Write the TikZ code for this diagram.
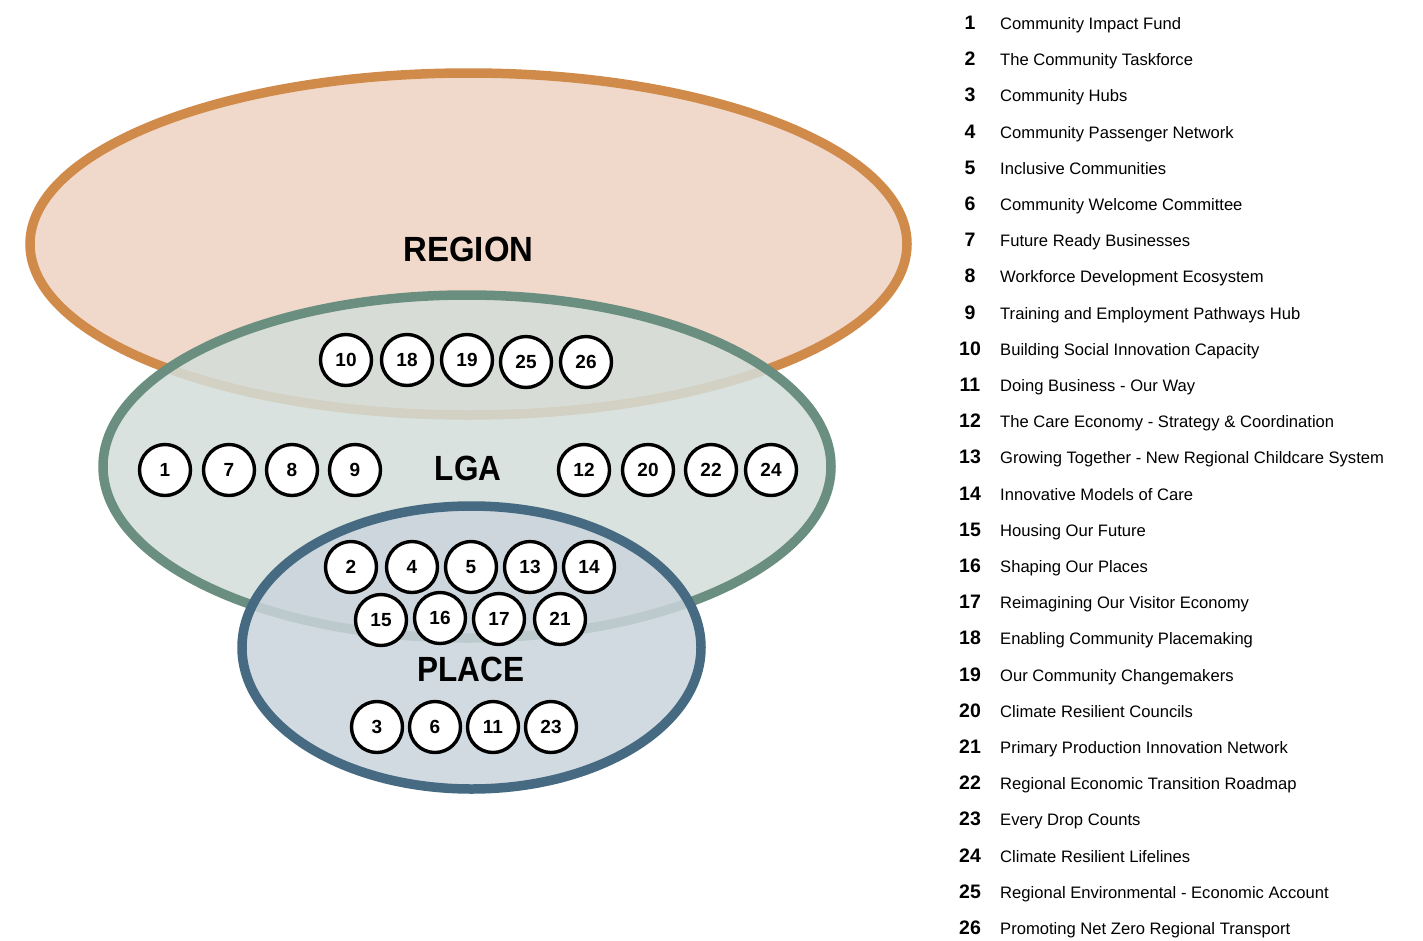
\documentclass[tikz,border=0pt]{standalone}
\usepackage{fontspec}
\setmainfont{Liberation Sans}
\definecolor{regionfill}{HTML}{F0D9CA}
\definecolor{regionline}{HTML}{D08A4A}
\definecolor{lgafill}{HTML}{D3DED9}
\definecolor{lgaline}{HTML}{6A8E7F}
\definecolor{placefill}{HTML}{CAD5DC}
\definecolor{placeline}{HTML}{466A82}
\begin{document}
\begin{tikzpicture}[x=1pt,y=-1pt,
  tier/.style={line width=9.5pt},
  badge/.style={circle, draw=black, line width=3.4pt, fill=white,
    minimum size=51pt, inner sep=0pt,
    font=\fontsize{19}{19}\selectfont\bfseries},
  tiername/.style={inner sep=0pt, font=\fontsize{35}{35}\selectfont\bfseries},
  keynum/.style={anchor=base, inner sep=0pt,
    font=\fontsize{19.5}{19.5}\selectfont\bfseries},
  keytext/.style={anchor=base west, inner sep=0pt,
    font=\fontsize{16.6}{16.6}\selectfont}]
\useasboundingbox[fill=white] (0,0) rectangle (1423,940);

% three nested levels
\draw[tier, draw=regionline, fill=regionfill] (468.5,244) ellipse [x radius=438.5, y radius=171];
\draw[tier, draw=lgaline, fill=lgafill, fill opacity=0.85] (467,466.5) ellipse [x radius=364, y radius=171.5];
\draw[tier, draw=placeline, fill=placefill, fill opacity=0.86] (471.5,647.5) ellipse [x radius=229.5, y radius=141.5];

\node[tiername] (region) at (468.5,249) {\scalebox{0.94}[1]{REGION}};
\node[tiername] (lga) at (468,468) {\scalebox{0.9}[1]{LGA}};
\node[tiername] (place) at (471,669) {\scalebox{0.9}[1]{PLACE}};

% initiative badges
\foreach \n/\x/\y in {10/346/360, 18/407/360, 19/467/360, 25/526/362, 26/586/362,
  1/165/470, 7/229/470, 8/292/470, 9/355/470,
  12/584/470, 20/648/470, 22/711/470, 24/771/470,
  2/351/567, 4/412/567, 5/471/567, 13/530/567, 14/589/567,
  15/381/620, 16/440/618, 17/499/619, 21/560/619,
  3/377/727, 6/435/727, 11/493/727, 23/551/727}
  \node[badge] (b\n) at (\x,\y) {\n};

% key
\foreach \t [count=\i] in {Community Impact Fund, The Community Taskforce,
  Community Hubs, Community Passenger Network, Inclusive Communities,
  Community Welcome Committee, Future Ready Businesses,
  Workforce Development Ecosystem, Training and Employment Pathways Hub,
  Building Social Innovation Capacity, Doing Business - Our Way,
  The Care Economy - Strategy \& Coordination,
  Growing Together - New Regional Childcare System,
  Innovative Models of Care, Housing Our Future, Shaping Our Places,
  Reimagining Our Visitor Economy, Enabling Community Placemaking,
  Our Community Changemakers, Climate Resilient Councils,
  Primary Production Innovation Network, Regional Economic Transition Roadmap,
  Every Drop Counts, Climate Resilient Lifelines,
  Regional Environmental - Economic Account,
  Promoting Net Zero Regional Transport}
{
  \pgfmathsetmacro{\yb}{29.5+36.2*(\i-1)}
  \node[keynum] (k\i) at (970,\yb) {\i};
  \node[keytext] (kt\i) at (1000,\yb) {\t};
}
\end{tikzpicture}
\end{document}
